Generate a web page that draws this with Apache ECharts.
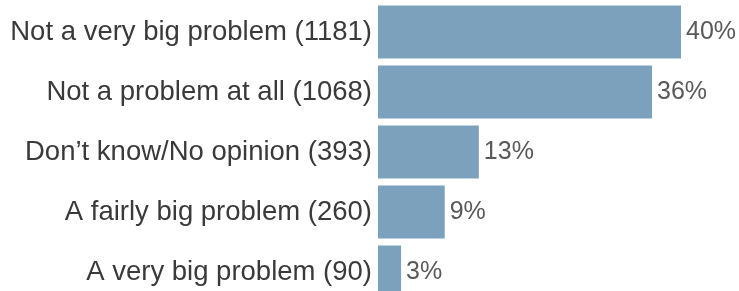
<!DOCTYPE html>
<html lang="en">
  <head>
    <meta charset="UTF-8" />
    <title>Problem rating</title>
    <style>
      body {
        margin: 0;
        padding: 0;
        background-color: #ffffff;
      }
      #container {
        width: 739px;
        height: 291px;
      }
    </style>
  </head>
  <body>
    <div id="container"></div>

    <script src="https://cdn.jsdelivr.net/npm/echarts@6/dist/echarts.min.js"></script>
    <script>
      // categories, top to bottom
      const categories = [
        "Not a very big problem (1181)",
        "Not a problem at all (1068)",
        "Don\u2019t know/No opinion (393)",
        "A fairly big problem (260)",
        "A very big problem (90)",
      ];
      // response counts (bar length)
      const counts = [1181, 1068, 393, 260, 90];
      // labels shown at bar ends
      const percentLabels = ["40%", "36%", "13%", "9%", "3%"];

      var chart = echarts.init(document.getElementById("container"));

      const option = {
        animation: false,
        grid: {
          left: 378,
          width: 361,
          top: 2,
          height: 300, // last row runs past the bottom edge, like the original
          outerBoundsMode: "none",
        },
        xAxis: {
          type: "value",
          min: 0,
          max: 1407,
          show: false,
        },
        yAxis: {
          type: "category",
          inverse: true,
          data: categories,
          axisLine: { show: false },
          axisTick: { show: false },
          axisLabel: {
            margin: 6,
            fontFamily: "Liberation Sans",
            fontSize: 27.5,
            color: "#3a3a3a",
          },
        },
        series: [
          {
            type: "bar",
            data: counts,
            barWidth: 53,
            itemStyle: { color: "#7ba1bd" },
            label: {
              show: true,
              position: "right",
              distance: 5,
              fontFamily: "Liberation Sans",
              fontSize: 25,
              color: "#595959",
              formatter: (p) => percentLabels[p.dataIndex],
            },
          },
        ],
      };

      chart.setOption(option);
    </script>
  </body>
</html>
